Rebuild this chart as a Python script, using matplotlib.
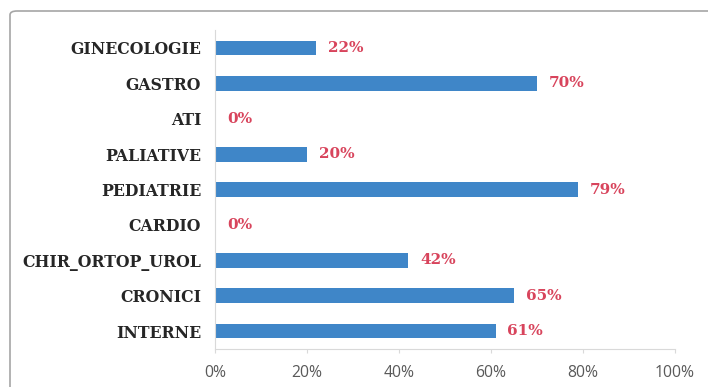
import matplotlib.pyplot as plt
from matplotlib.patches import FancyBboxPatch
from matplotlib.ticker import FuncFormatter

# sectii, de jos in sus
sectii = ['INTERNE', 'CRONICI', 'CHIR_ORTOP_UROL', 'CARDIO', 'PEDIATRIE',
          'PALIATIVE', 'ATI', 'GASTRO', 'GINECOLOGIE']
procente = [61, 65, 42, 0, 79, 20, 0, 70, 22]
x_ticks = [0, 20, 40, 60, 80, 100]

bar_color = '#3F86C8'
label_color = '#D8445C'

fig = plt.figure(figsize=(7.08, 3.87), dpi=100)
fig.patch.set_facecolor('white')

# chenarul graficului
frame = FancyBboxPatch((10 / 708, -0.2), 1.2, 1.2 - 11 / 387,
                       boxstyle='round,pad=0,rounding_size=0.01',
                       transform=fig.transFigure, facecolor='none',
                       edgecolor='#A6A6A6', linewidth=1.2)
fig.patches.append(frame)

ax = fig.add_axes([215 / 708, (387 - 348.7) / 387, 460 / 708, 318.4 / 387])
y = list(range(len(sectii)))
ax.barh(y, procente, height=0.42, color=bar_color)

for yi, v in zip(y, procente):
    ax.annotate(f'{v}%', (v, yi), xytext=(8.5, 0), textcoords='offset points',
                va='center', ha='left', color=label_color,
                fontsize=11, fontweight='bold', family='DejaVu Serif')

ax.set_xlim(0, 100)
ax.set_ylim(-0.5, len(sectii) - 0.5)
ax.set_xticks(x_ticks)
ax.xaxis.set_major_formatter(FuncFormatter(lambda v, p: f'{int(v)}%'))
ax.set_yticks(y)
ax.set_yticklabels(sectii, family='DejaVu Serif', fontweight='bold',
                   fontsize=11.3, color='#262626')

for lbl in ax.get_xticklabels():
    lbl.set_family('Open Sans')
    lbl.set_fontsize(11.3)
    lbl.set_color('#595959')

for s in ['top', 'right']:
    ax.spines[s].set_visible(False)
ax.spines['left'].set_color('#D9D9D9')
ax.spines['bottom'].set_color('#D9D9D9')
ax.tick_params(axis='y', length=0, pad=10)
ax.tick_params(axis='x', length=3, color='#D9D9D9', pad=9)

fig.savefig('out.png', dpi=100)
